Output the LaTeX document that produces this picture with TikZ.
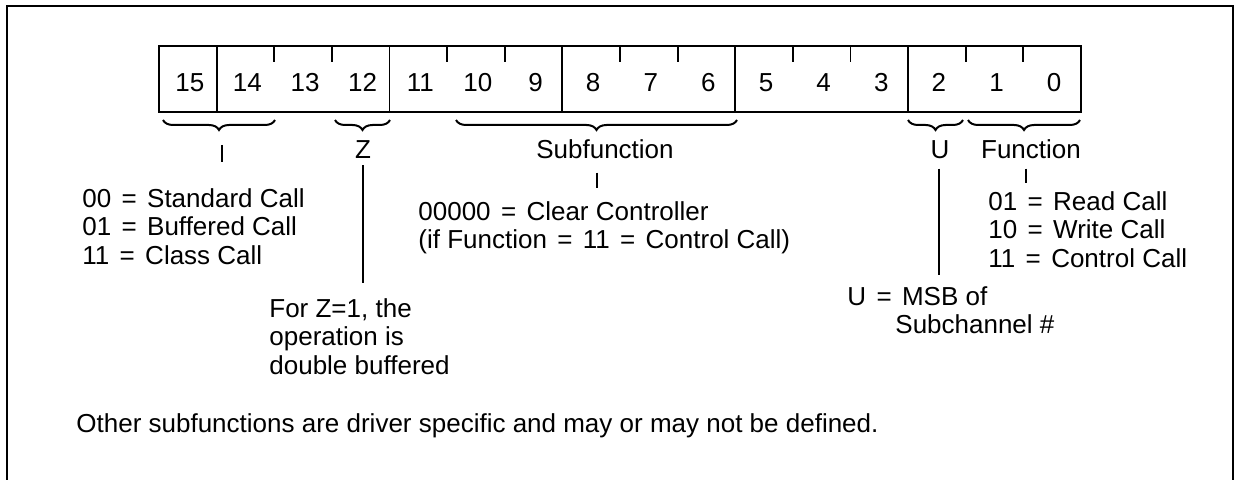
\documentclass[tikz,border=0pt]{standalone}
\usepackage{fontspec}
\setmainfont{Liberation Sans}
\usetikzlibrary{decorations.pathreplacing,positioning}

\newcommand{\eqs}{\hspace{0.12em}=\hspace{0.12em}}

\tikzset{
    field/.style={line width=0.9pt},
    bitbrace/.style={decorate, decoration={brace, mirror, amplitude=5pt}, line width=1pt},
    lead/.style={line width=0.9pt},
    lbl/.style={inner sep=0pt, anchor=base},
    txt/.style={inner sep=0pt, align=left, anchor=north west}
}

\begin{document}
\begin{tikzpicture}[x=0.5pt, y=-0.5pt, font=\fontsize{13}{14.3}\selectfont]
    \useasboundingbox (0,0) rectangle (1235,480);
    % frame, open at the bottom
    \draw[line width=1.2pt] (7,490) -- (7,6) -- (1233,6) -- (1233,490);

    % the word
    \def\cw{57.625}
    \draw[field] (159,46) rectangle (1081,112);
    \foreach \b in {0,...,15}
        \node[lbl] (bit\b) at ({161+(15.5-\b)*\cw},92) {\b};
    \foreach \k in {1,4,7,10,13}
        \draw[field] ({159+\k*\cw},46) -- ({159+\k*\cw},112);
    \foreach \k in {2,3,5,6,8,9,11,12,14,15}
        \draw[field] ({159+\k*\cw},46) -- ({159+\k*\cw},62);

    % braces
    \draw[bitbrace] (163,120) -- (275,120);
    \draw[bitbrace] (335,120) -- (390,120);
    \draw[bitbrace] (456,120) -- (737,120);
    \draw[bitbrace] (908,120) -- (963,120);
    \draw[bitbrace] (968,120) -- (1080,120);
    \coordinate (modetip) at (222,131);
    \coordinate (subtip) at (597,131);
    \coordinate (utip) at (939,131);
    \coordinate (funtip) at (1026,131);

    % labels
    \node[lbl] (zlbl) at (363,159) {Z};
    \node[lbl] (sublbl) at (605,159) {Subfunction};
    \node[lbl] (ulbl) at (940,159) {U};
    \node[lbl] (funlbl) at (1031,159) {Function};

    % texts
    \node[txt] (modetxt) at (82,188) {00 \eqs{} Standard Call\\01 \eqs{} Buffered Call\\11 \eqs{} Class Call};
    \node[txt] (subtxt) at (418,201) {00000 \eqs{} Clear Controller\\(if Function \eqs{} 11 \eqs{} Control Call)};
    \node[txt] (funtxt) at (988,191) {01 \eqs{} Read Call\\10 \eqs{} Write Call\\11 \eqs{} Control Call};
    \node[txt] (zdesc) at (269,298) {For Z=1, the\\operation is\\double buffered};
    \node[txt] (udesc) at (847,286) {U \eqs{} MSB of\\\hspace*{24pt}Subchannel \#};
    \node[inner sep=0pt, anchor=base west] (other) at (76,432)
        {Other subfunctions are driver specific and may or may not be defined.};

    % leads
    \draw[lead] ([yshift=-7pt]modetip) -- ([yshift=13pt]modetip |- modetxt.north);
    \draw[lead] ([yshift=-3pt]zlbl.south) -- ([yshift=7.5pt]zlbl.south |- zdesc.north);
    \draw[lead] ([yshift=-6.5pt]subtip |- sublbl.south) -- ([yshift=6.5pt]subtip |- subtxt.north);
    \draw[lead] ([yshift=-4.5pt]utip |- ulbl.south) -- ([yshift=5.5pt]utip |- udesc.north);
    \draw[lead] ([yshift=-4.5pt]funtip |- funlbl.south) -- ([yshift=4pt]funtip |- funtxt.north);
\end{tikzpicture}
\end{document}
